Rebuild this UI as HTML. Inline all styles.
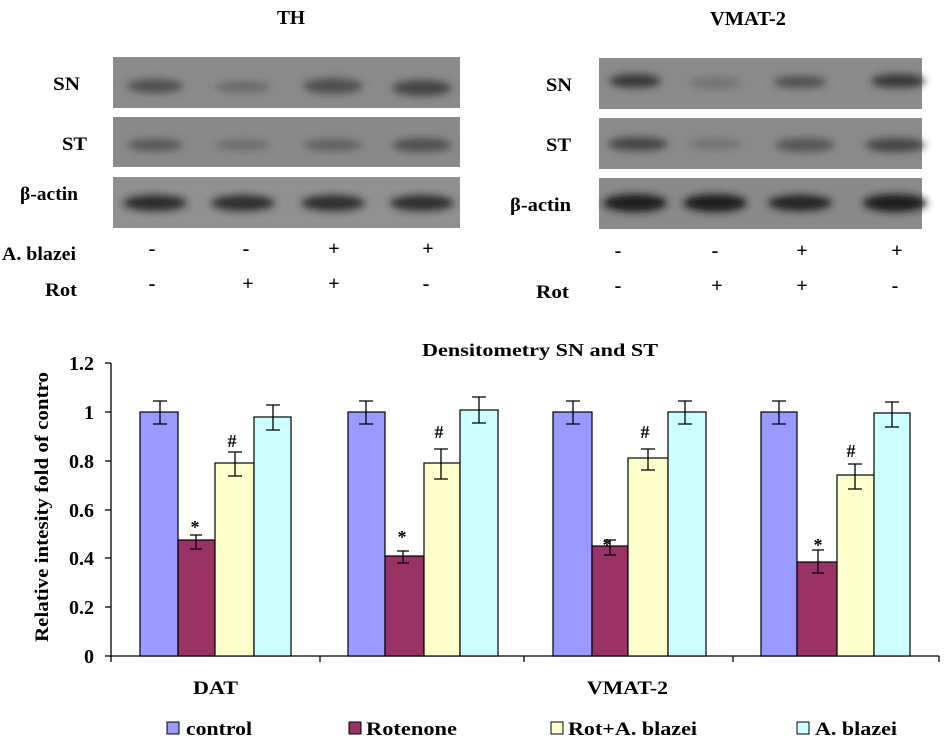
<!DOCTYPE html>
<html><head><meta charset="utf-8"><style>
html,body{margin:0;padding:0;background:#fff;}
svg{display:block;font-family:"Liberation Serif",serif;font-weight:bold;}
</style></head><body>
<svg width="947" height="742" viewBox="0 0 947 742" xmlns="http://www.w3.org/2000/svg">
<defs>
<filter id="b" x="-50%" y="-100%" width="200%" height="300%"><feGaussianBlur stdDeviation="4"/></filter>
</defs>
<!-- Blot titles -->
<text x="277" y="24" font-size="20" textLength="28" lengthAdjust="spacingAndGlyphs">TH</text>
<text x="710" y="25" font-size="20" textLength="76" lengthAdjust="spacingAndGlyphs">VMAT-2</text>
<!-- Left blots -->
<g>
<rect x="113" y="57" width="347" height="51" fill="#8b8b8b"/>
<rect x="113" y="117" width="347" height="50" fill="#8a8a8a"/>
<rect x="113" y="177" width="347" height="51" fill="#909090"/>
<g filter="url(#b)">
<ellipse cx="155" cy="86" rx="28" ry="7" fill="#505050"/>
<ellipse cx="243" cy="87" rx="28" ry="6" fill="#6a6a6a"/>
<ellipse cx="333" cy="86" rx="30" ry="8" fill="#505050"/>
<ellipse cx="422" cy="88" rx="30" ry="8" fill="#444"/>
<ellipse cx="155" cy="145" rx="28" ry="6" fill="#555"/>
<ellipse cx="243" cy="145" rx="28" ry="6" fill="#6e6e6e"/>
<ellipse cx="333" cy="145" rx="30" ry="6" fill="#606060"/>
<ellipse cx="422" cy="145" rx="30" ry="7" fill="#505050"/>
<ellipse cx="155" cy="203" rx="32" ry="8" fill="#2a2a2a"/>
<ellipse cx="243" cy="203" rx="32" ry="8" fill="#2e2e2e"/>
<ellipse cx="333" cy="203" rx="32" ry="8" fill="#2e2e2e"/>
<ellipse cx="422" cy="203" rx="32" ry="8" fill="#2e2e2e"/>
</g>
</g>
<!-- Right blots -->
<g>
<rect x="599" y="58" width="323" height="51" fill="#8b8b8b"/>
<rect x="599" y="118" width="323" height="51" fill="#8b8b8b"/>
<rect x="599" y="178" width="323" height="51" fill="#8a8a8a"/>
<g filter="url(#b)">
<ellipse cx="635" cy="81" rx="26" ry="7" fill="#383838"/>
<ellipse cx="715" cy="83" rx="26" ry="6" fill="#727272"/>
<ellipse cx="800" cy="82" rx="27" ry="6" fill="#505050"/>
<ellipse cx="898" cy="81" rx="27" ry="7" fill="#383838"/>
<ellipse cx="638" cy="144" rx="30" ry="7" fill="#454545"/>
<ellipse cx="715" cy="144" rx="28" ry="6" fill="#747474"/>
<ellipse cx="805" cy="145" rx="30" ry="7" fill="#555"/>
<ellipse cx="895" cy="145" rx="30" ry="7" fill="#454545"/>
<ellipse cx="635" cy="203" rx="32" ry="9" fill="#1a1a1a"/>
<ellipse cx="715" cy="203" rx="32" ry="9" fill="#1e1e1e"/>
<ellipse cx="800" cy="203" rx="32" ry="8" fill="#222"/>
<ellipse cx="895" cy="203" rx="32" ry="9" fill="#1a1a1a"/>
</g>
</g>
<!-- blot labels -->
<g font-size="19" lengthAdjust="spacingAndGlyphs">
<text x="53" y="90" textLength="27" lengthAdjust="spacingAndGlyphs">SN</text>
<text x="62" y="150" textLength="25" lengthAdjust="spacingAndGlyphs">ST</text>
<text x="20" y="200" textLength="58" lengthAdjust="spacingAndGlyphs">β-actin</text>
<text x="546" y="91" textLength="26" lengthAdjust="spacingAndGlyphs">SN</text>
<text x="546" y="151" textLength="25" lengthAdjust="spacingAndGlyphs">ST</text>
<text x="510" y="211" textLength="61" lengthAdjust="spacingAndGlyphs">β-actin</text>
<text x="2" y="260" textLength="74" lengthAdjust="spacingAndGlyphs">A. blazei</text>
<text x="45" y="296" textLength="32" lengthAdjust="spacingAndGlyphs">Rot</text>
<text x="536" y="298" textLength="33" lengthAdjust="spacingAndGlyphs">Rot</text>
</g>
<g font-size="20" text-anchor="middle">
<text x="152" y="255">-</text><text x="246" y="255">-</text><text x="334" y="255">+</text><text x="428" y="255">+</text>
<text x="152" y="290">-</text><text x="248" y="290">+</text><text x="334" y="290">+</text><text x="426" y="290">-</text>
<text x="618" y="257">-</text><text x="715" y="257">-</text><text x="802" y="257">+</text><text x="897" y="257">+</text>
<text x="618" y="292">-</text><text x="717" y="292">+</text><text x="802" y="292">+</text><text x="895" y="292">-</text>
</g>
<!-- Chart -->
<text x="422" y="356" font-size="18" textLength="236" lengthAdjust="spacingAndGlyphs">Densitometry SN and ST</text>
<g stroke="#000" stroke-width="1.3">
<line x1="111" y1="363" x2="111" y2="662"/>
<line x1="111" y1="656" x2="939" y2="656"/>
<line x1="105" y1="363" x2="111" y2="363"/><line x1="105" y1="412" x2="111" y2="412"/>
<line x1="105" y1="461" x2="111" y2="461"/><line x1="105" y1="510" x2="111" y2="510"/>
<line x1="105" y1="558" x2="111" y2="558"/><line x1="105" y1="607" x2="111" y2="607"/>
<line x1="105" y1="656" x2="111" y2="656"/>
<line x1="320" y1="656" x2="320" y2="662"/><line x1="524" y1="656" x2="524" y2="662"/>
<line x1="733" y1="656" x2="733" y2="662"/><line x1="939" y1="656" x2="939" y2="662"/>
</g>
<g font-size="20" text-anchor="end">
<text x="94" y="370">1.2</text><text x="94" y="419">1</text><text x="94" y="468">0.8</text>
<text x="94" y="517">0.6</text><text x="94" y="565">0.4</text><text x="94" y="614">0.2</text>
<text x="94" y="663">0</text>
</g>
<text transform="translate(48,642) rotate(-90)" font-size="19" textLength="270" lengthAdjust="spacingAndGlyphs">Relative intesity fold of contro</text>
<g stroke="#000" stroke-width="1.2">
<rect x="140" y="412" width="38" height="244" fill="#9999ff"/>
<rect x="178" y="540" width="37" height="116" fill="#993366"/>
<rect x="215" y="463" width="39" height="193" fill="#ffffcc"/>
<rect x="254" y="417" width="37" height="239" fill="#ccffff"/>
<rect x="348" y="412" width="37" height="244" fill="#9999ff"/>
<rect x="385" y="556" width="39" height="100" fill="#993366"/>
<rect x="424" y="463" width="36" height="193" fill="#ffffcc"/>
<rect x="460" y="410" width="38" height="246" fill="#ccffff"/>
<rect x="553" y="412" width="39" height="244" fill="#9999ff"/>
<rect x="592" y="546" width="36" height="110" fill="#993366"/>
<rect x="628" y="458" width="40" height="198" fill="#ffffcc"/>
<rect x="668" y="412" width="38" height="244" fill="#ccffff"/>
<rect x="761" y="412" width="36" height="244" fill="#9999ff"/>
<rect x="797" y="562" width="40" height="94" fill="#993366"/>
<rect x="837" y="475" width="37" height="181" fill="#ffffcc"/>
<rect x="874" y="413" width="36" height="243" fill="#ccffff"/>
</g>
<g stroke="#000" stroke-width="1.3" fill="none">
<path d="M160 401V424M153 401H167M153 424H167"/>
<path d="M196 535V549M190 535H202M190 549H202"/>
<path d="M235 452V476M228 452H242M228 476H242"/>
<path d="M273 405V430M266 405H280M266 430H280"/>
<path d="M366 401V424M359 401H373M359 424H373"/>
<path d="M403 551V563M397 551H409M397 563H409"/>
<path d="M441 449V479M434 449H448M434 479H448"/>
<path d="M479 397V423M472 397H486M472 423H486"/>
<path d="M573 401V424M566 401H580M566 424H580"/>
<path d="M610 540V555M604 540H616M604 555H616"/>
<path d="M648 449V470M641 449H655M641 470H655"/>
<path d="M685 401V424M678 401H692M678 424H692"/>
<path d="M779 401V424M772 401H786M772 424H786"/>
<path d="M818 550V573M812 550H824M812 573H824"/>
<path d="M855 464V489M848 464H862M848 489H862"/>
<path d="M892 402V427M885 402H899M885 427H899"/>
</g>
<g font-size="18" text-anchor="middle">
<text x="195" y="533">*</text><text x="402" y="543">*</text><text x="607" y="551">*</text><text x="818" y="551">*</text>
<text x="232" y="447">#</text><text x="439" y="438">#</text><text x="645" y="438">#</text><text x="851" y="457">#</text>
</g>
<text x="193" y="694" font-size="19" textLength="45" lengthAdjust="spacingAndGlyphs">DAT</text>
<text x="587" y="694" font-size="19" textLength="81" lengthAdjust="spacingAndGlyphs">VMAT-2</text>
<!-- legend -->
<g stroke="#000" stroke-width="1">
<rect x="167" y="722" width="12" height="12" fill="#9999ff"/>
<rect x="349" y="722" width="12" height="12" fill="#993366"/>
<rect x="551" y="722" width="12" height="12" fill="#ffffcc"/>
<rect x="797" y="722" width="12" height="12" fill="#ccffff"/>
</g>
<g font-size="19">
<text x="186" y="735" textLength="66" lengthAdjust="spacingAndGlyphs">control</text>
<text x="366" y="735" textLength="91" lengthAdjust="spacingAndGlyphs">Rotenone</text>
<text x="568" y="735" textLength="129" lengthAdjust="spacingAndGlyphs">Rot+A. blazei</text>
<text x="815" y="735" textLength="82" lengthAdjust="spacingAndGlyphs">A. blazei</text>
</g>
</svg>
</body></html>
